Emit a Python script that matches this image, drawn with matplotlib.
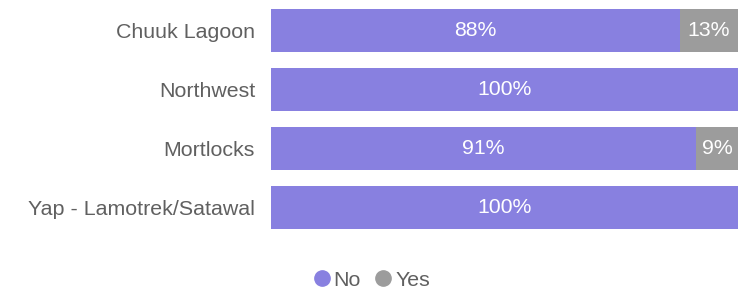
import matplotlib
matplotlib.use("Agg")
import matplotlib.pyplot as plt
from matplotlib.lines import Line2D

categories = ["Chuuk Lagoon", "Northwest", "Mortlocks", "Yap - Lamotrek/Satawal"]
no_values = [87.5, 100, 91, 100]
yes_values = [12.5, 0, 9, 0]

c_no = "#8880e0"
c_yes = "#9c9c9c"
txt = "#606060"

plt.rcParams['font.family'] = ['Liberation Sans', 'DejaVu Sans']

fig = plt.figure(figsize=(7.45, 2.88), dpi=100)
ax = fig.add_axes([271/745, 1-238/288, 467/745, 238/288])

pos = list(range(len(categories)))
h = 0.73
ax.barh(pos, no_values, height=h, color=c_no)
ax.barh(pos, yes_values, left=no_values, height=h, color=c_yes)

def lab(v):
    return f"{int(v + 0.5)}%"

for i, (n, y) in enumerate(zip(no_values, yes_values)):
    if n > 0:
        ax.text(n/2, i, lab(n), ha='center', va='center', color='white', fontsize=15.3)
    if y > 0:
        ax.text(n + y/2, i, lab(y), ha='center', va='center', color='white', fontsize=15.3)

ax.set_xlim(0, 100)
ax.set_ylim(3 + 30.5/59, -30.5/59)
ax.set_yticks(pos)
ax.set_yticklabels(categories, color=txt, fontsize=15.4)
ax.tick_params(axis='y', length=0, pad=11.5)
ax.set_xticks([])
for s in ax.spines.values():
    s.set_visible(False)

handles = [Line2D([], [], marker='o', linestyle='', color=c_no, markersize=11),
           Line2D([], [], marker='o', linestyle='', color=c_yes, markersize=11)]
fig.legend(handles, ["No", "Yes"], loc='center', bbox_to_anchor=(372/745, 1-280/288),
           ncol=2, frameon=False, handlelength=0.7, handletextpad=0.2,
           columnspacing=0.7, labelcolor=txt, fontsize=15.4, borderaxespad=0, borderpad=0)

fig.savefig("out.png", dpi=100)
